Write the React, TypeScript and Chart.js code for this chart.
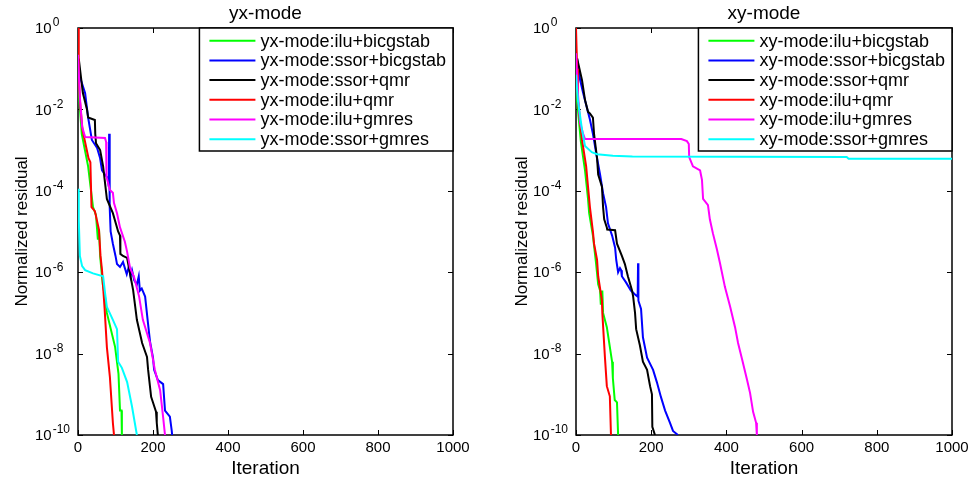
import { useEffect, useRef } from "react";
import { Chart, registerables } from "chart.js";

Chart.register(...registerables);

const FONT = '"Liberation Sans", Arial, Helvetica, sans-serif';

// ---------- tick labels / names ----------
const xTickValues = [0, 200, 400, 600, 800, 1000];
const xTickLabels = ["0", "200", "400", "600", "800", "1000"];
const yTickExponents = [-10, -8, -6, -4, -2, 0];
const yTickBase = "10";
const yTickExponentLabels = ["-10", "-8", "-6", "-4", "-2", "0"];
const methodNames = ["ilu+bicgstab", "ssor+bicgstab", "ssor+qmr", "ilu+qmr", "ilu+gmres", "ssor+gmres"];
const methodColors = ["#00ff00", "#0000ff", "#000000", "#ff0000", "#ff00ff", "#00ffff"];

// ---------- yx-mode (iteration, log10 residual) ----------
const yxIluBicgstabIt = [0, 3, 10, 27, 40, 48, 53, 56, 59, 62, 66, 72, 77, 99, 108, 112, 116, 117];
const yxIluBicgstabLog = [-0.6, -1.7, -2.6, -3.4, -4.4, -4.6, -5.2, -4.95, -5.6, -5.9, -6.3, -6.6, -7.0, -7.84, -8.5, -9.4, -9.4, -10];

const yxSsorBicgstabIt = [2, 5, 19, 27, 37, 51, 59, 64, 72, 80, 82, 83, 84, 85, 87, 93, 100, 104, 112, 120, 125, 130, 136, 140, 144, 150, 157, 162, 165, 170, 179, 186, 192, 200, 203, 213, 227, 232, 245, 250, 251];
const yxSsorBicgstabLog = [-1.0, -1.2, -1.6, -2.2, -2.75, -2.95, -3.2, -3.5, -3.6, -3.7, -3.9, -2.6, -3.9, -4.4, -5.0, -5.3, -5.6, -5.8, -5.87, -5.75, -5.9, -6.05, -5.85, -6.1, -5.95, -6.2, -6.3, -6.1, -6.45, -6.4, -6.6, -7.2, -7.7, -8.1, -8.4, -8.65, -8.75, -9.4, -9.55, -9.9, -10];

const yxSsorQmrIt = [2, 13, 24, 27, 45, 46, 48, 59, 67, 77, 93, 107, 112, 113, 120, 131, 147, 157, 171, 184, 187, 195, 200, 208, 210, 213];
const yxSsorQmrLog = [-0.75, -1.6, -2.0, -2.2, -2.26, -2.6, -2.83, -3.0, -3.4, -4.2, -4.55, -5.0, -5.1, -5.55, -5.6, -5.65, -6.44, -7.17, -7.74, -8.08, -8.4, -9.06, -9.2, -9.43, -9.7, -10];

const yxIluQmrIt = [0, 2, 5, 12, 28, 33, 36, 45, 56, 60, 64, 71, 77, 85, 93, 96];
const yxIluQmrLog = [0, -1.2, -1.77, -2.5, -3.2, -3.3, -4.4, -4.5, -4.96, -5.6, -5.95, -6.9, -7.84, -8.57, -9.7, -10];

const yxIluGmresIt = [0, 5, 11, 19, 72, 75, 76, 85, 93, 96, 104, 112, 125, 131, 139, 149, 163, 173, 192, 205, 219, 227, 232];
const yxIluGmresLog = [-0.66, -1.7, -2.43, -2.68, -2.7, -2.8, -3.66, -3.98, -4.05, -4.3, -4.55, -4.9, -5.25, -5.5, -5.9, -6.1, -6.6, -7.17, -7.74, -8.4, -8.9, -9.56, -10];

const yxSsorGmresIt = [0, 2, 5, 11, 19, 40, 67, 72, 77, 93, 104, 107, 117, 131, 144, 157];
const yxSsorGmresLog = [-3.95, -4.7, -5.6, -5.85, -5.95, -6.03, -6.1, -6.5, -6.85, -7.17, -7.4, -8.2, -8.35, -8.7, -9.3, -10];

// ---------- xy-mode (iteration, log10 residual) ----------
const xyIluBicgstabIt = [0, 3, 13, 24, 32, 35, 45, 53, 59, 64, 66, 70, 72, 82, 96, 98, 103, 109, 112];
const xyIluBicgstabLog = [-0.5, -1.8, -2.8, -3.5, -4.2, -4.55, -5.1, -5.75, -6.3, -6.45, -6.8, -6.45, -7.0, -7.35, -8.2, -8.6, -9.14, -9.2, -10];

const xySsorBicgstabIt = [3, 11, 19, 37, 45, 56, 64, 72, 80, 85, 96, 104, 107, 112, 117, 120, 122, 133, 146, 157, 164, 165, 166, 173, 178, 189, 205, 215, 226, 237, 250, 258, 271];
const xySsorBicgstabLog = [-0.75, -1.28, -1.6, -2.25, -2.6, -3.2, -3.6, -4.06, -4.4, -4.8, -5.1, -5.4, -5.7, -6.0, -5.9, -5.95, -6.1, -6.25, -6.45, -6.55, -6.6, -5.78, -6.7, -6.9, -7.6, -8.1, -8.4, -8.7, -9.07, -9.4, -9.7, -9.9, -10];

const xySsorQmrIt = [3, 16, 24, 32, 37, 45, 48, 56, 59, 69, 72, 75, 82, 83, 104, 109, 122, 130, 138, 149, 152, 157, 160, 170, 178, 189, 197, 202, 203, 210];
const xySsorQmrLog = [-0.75, -1.28, -1.77, -2.06, -2.1, -2.2, -2.6, -3.2, -3.6, -3.9, -4.4, -4.7, -4.9, -4.95, -4.97, -5.3, -5.6, -5.8, -6.1, -6.45, -6.6, -7.0, -7.4, -7.8, -8.2, -8.4, -8.8, -9.0, -9.8, -10];

const xyIluQmrIt = [0, 3, 5, 16, 27, 32, 37, 45, 48, 56, 59, 69, 70, 77, 82, 90, 93];
const xyIluQmrLog = [0, -1.0, -1.77, -2.75, -3.4, -3.9, -4.4, -5.0, -5.3, -5.7, -6.1, -6.7, -7.0, -8.1, -8.8, -9.05, -10];

const xyIluGmresIt = [0, 5, 11, 19, 24, 280, 295, 300, 301, 311, 330, 335, 338, 351, 356, 364, 375, 383, 396, 410, 423, 431, 442, 455, 463, 471, 479, 481];
const xyIluGmresLog = [-0.62, -1.6, -2.33, -2.6, -2.73, -2.73, -2.78, -2.85, -3.17, -3.4, -3.5, -3.73, -4.2, -4.35, -4.7, -5.04, -5.45, -5.78, -6.36, -6.85, -7.35, -7.74, -8.15, -8.65, -8.97, -9.43, -9.7, -10];

const xySsorGmresIt = [0, 5, 16, 24, 42, 56, 98, 150, 720, 725, 1000];
const xySsorGmresLog = [-1.15, -1.77, -2.5, -2.9, -3.05, -3.1, -3.14, -3.16, -3.17, -3.21, -3.21];

const yxSeries = [
  [yxIluBicgstabIt, yxIluBicgstabLog],
  [yxSsorBicgstabIt, yxSsorBicgstabLog],
  [yxSsorQmrIt, yxSsorQmrLog],
  [yxIluQmrIt, yxIluQmrLog],
  [yxIluGmresIt, yxIluGmresLog],
  [yxSsorGmresIt, yxSsorGmresLog],
];
const xySeries = [
  [xyIluBicgstabIt, xyIluBicgstabLog],
  [xySsorBicgstabIt, xySsorBicgstabLog],
  [xySsorQmrIt, xySsorQmrLog],
  [xyIluQmrIt, xyIluQmrLog],
  [xyIluGmresIt, xyIluGmresLog],
  [xySsorGmresIt, xySsorGmresLog],
];

// ---------- plugins ----------
const framePlugin = {
  id: "matlabFrame",
  beforeDatasetsDraw(chart: any) {
    const { ctx, chartArea, scales } = chart;
    const { left, right, top, bottom } = chartArea;
    ctx.save();
    ctx.strokeStyle = "#000";
    ctx.lineWidth = 1;
    const tl = 5;
    ctx.beginPath();
    scales.x.ticks.forEach((t: any) => {
      const px = Math.round(scales.x.getPixelForValue(t.value)) + 0.5;
      ctx.moveTo(px, bottom);
      ctx.lineTo(px, bottom - tl);
      ctx.moveTo(px, top);
      ctx.lineTo(px, top + tl);
    });
    scales.y.ticks.forEach((t: any) => {
      const py = Math.round(scales.y.getPixelForValue(t.value)) + 0.5;
      ctx.moveTo(left, py);
      ctx.lineTo(left + tl, py);
      ctx.moveTo(right, py);
      ctx.lineTo(right - tl, py);
    });
    ctx.stroke();
    ctx.lineWidth = 1.5;
    ctx.strokeRect(left, top, right - left, bottom - top);
    ctx.restore();
  },
  afterDraw(chart: any) {
    // y tick labels in MATLAB style: "10" with a raised exponent
    const { ctx, chartArea, scales } = chart;
    ctx.save();
    ctx.fillStyle = "#000";
    ctx.textAlign = "left";
    ctx.textBaseline = "middle";
    scales.y.ticks.forEach((t: any, i: number) => {
      const py = scales.y.getPixelForValue(t.value);
      const x = chartArea.left - 43;
      ctx.font = `15px ${FONT}`;
      ctx.fillText(yTickBase, x, py + 1);
      const w = ctx.measureText(yTickBase).width;
      ctx.font = `12px ${FONT}`;
      ctx.fillText(yTickExponentLabels[i], x + w + 1, py - 5);
    });
    ctx.restore();
  },
};

const legendBoxPlugin = {
  id: "legendBox",
  afterDatasetsDraw(chart: any) {
    const { ctx, chartArea } = chart;
    const datasets = chart.data.datasets;
    ctx.save();
    ctx.font = `18px ${FONT}`;
    const tw = Math.max(...datasets.map((d: any) => ctx.measureText(d.label).width));
    const w = 10 + 46 + 5 + tw + 7;
    const rowH = 19.7;
    const h = 123;
    const x0 = chartArea.right - w;
    const y0 = chartArea.top;
    ctx.fillStyle = "#fff";
    ctx.fillRect(x0, y0, w, h);
    ctx.strokeStyle = "#000";
    ctx.lineWidth = 1.5;
    ctx.strokeRect(x0, y0, w, h);
    datasets.forEach((d: any, i: number) => {
      const y = y0 + 12.7 + i * rowH;
      ctx.strokeStyle = d.borderColor;
      ctx.lineWidth = 2;
      ctx.beginPath();
      ctx.moveTo(x0 + 10, y);
      ctx.lineTo(x0 + 56, y);
      ctx.stroke();
      ctx.fillStyle = "#000";
      ctx.textBaseline = "middle";
      ctx.textAlign = "left";
      ctx.fillText(d.label, x0 + 61, y + 1);
    });
    ctx.restore();
  },
};

type PanelProps = {
  mode: string;
  series: number[][][];
  width: number;
  axisWidth: number;
  padRight: number;
  yTitlePad: number;
};

function Panel({ mode, series, width, axisWidth, padRight, yTitlePad }: PanelProps) {
  const ref = useRef<HTMLCanvasElement | null>(null);
  useEffect(() => {
    if (!ref.current) return;
    const datasets = series.map(([its, logs], i) => ({
      label: `${mode}:${methodNames[i]}`,
      data: its.map((it, k) => ({ x: it, y: Math.pow(10, logs[k]) })),
      borderColor: methodColors[i],
      backgroundColor: methodColors[i],
      borderWidth: 2,
      pointRadius: 0,
      tension: 0,
      fill: false,
      order: series.length - 1 - i,
    }));
    const chart = new Chart(ref.current, {
      type: "line",
      data: { datasets },
      options: {
        animation: false,
        responsive: false,
        maintainAspectRatio: false,
        layout: { padding: { left: 0, right: padRight, top: 0, bottom: 0 } },
        plugins: {
          legend: { display: false },
          tooltip: { enabled: false },
          title: {
            display: true,
            text: mode,
            fullSize: false,
            color: "#000",
            font: { family: FONT, size: 19, weight: "normal" },
            padding: { top: 2, bottom: 3.2 },
          },
        },
        scales: {
          x: {
            type: "linear",
            min: 0,
            max: 1000,
            afterBuildTicks: (scale: any) => {
              scale.ticks = xTickValues.map((v) => ({ value: v }));
            },
            afterFit: (scale: any) => {
              scale.height = 49;
            },
            grid: { display: false, drawTicks: false },
            border: { display: false },
            ticks: {
              color: "#000",
              font: { family: FONT, size: 15 },
              padding: 4,
              maxRotation: 0,
              autoSkip: false,
              callback: (_v: any, index: number) => xTickLabels[index],
            },
            title: {
              display: true,
              text: "Iteration",
              color: "#000",
              font: { family: FONT, size: 19 },
              padding: { top: 0, bottom: 4 },
            },
          },
          y: {
            type: "logarithmic",
            min: 1e-10,
            max: 1,
            afterBuildTicks: (scale: any) => {
              scale.ticks = yTickExponents.map((e) => ({ value: Math.pow(10, e) }));
            },
            afterFit: (scale: any) => {
              scale.width = axisWidth;
            },
            grid: { display: false, drawTicks: false },
            border: { display: false },
            ticks: {
              display: false,
              callback: (_v: any, index: number) => yTickBase + "^" + yTickExponentLabels[index],
            },
            title: {
              display: true,
              text: "Normalized residual",
              color: "#000",
              font: { family: FONT, size: 17 },
              padding: { top: yTitlePad, bottom: 0 },
            },
          },
        },
      } as any,
      plugins: [framePlugin, legendBoxPlugin],
    });
    return () => chart.destroy();
  }, [mode, series, width, axisWidth, padRight, yTitlePad]);
  return <canvas ref={ref} width={width} height={484} style={{ display: "block", width, height: 484 }} />;
}

export default function App() {
  return (
    <div style={{ position: "absolute", left: 0, top: 0, width: 975, height: 484, background: "#fff" }}>
      <div style={{ position: "absolute", left: 0, top: 0 }}>
        <Panel mode="yx-mode" series={yxSeries} width={487} axisWidth={78} padRight={34} yTitlePad={12} />
      </div>
      <div style={{ position: "absolute", left: 487, top: 0 }}>
        <Panel mode="xy-mode" series={xySeries} width={488} axisWidth={89} padRight={23} yTitlePad={25} />
      </div>
    </div>
  );
}
